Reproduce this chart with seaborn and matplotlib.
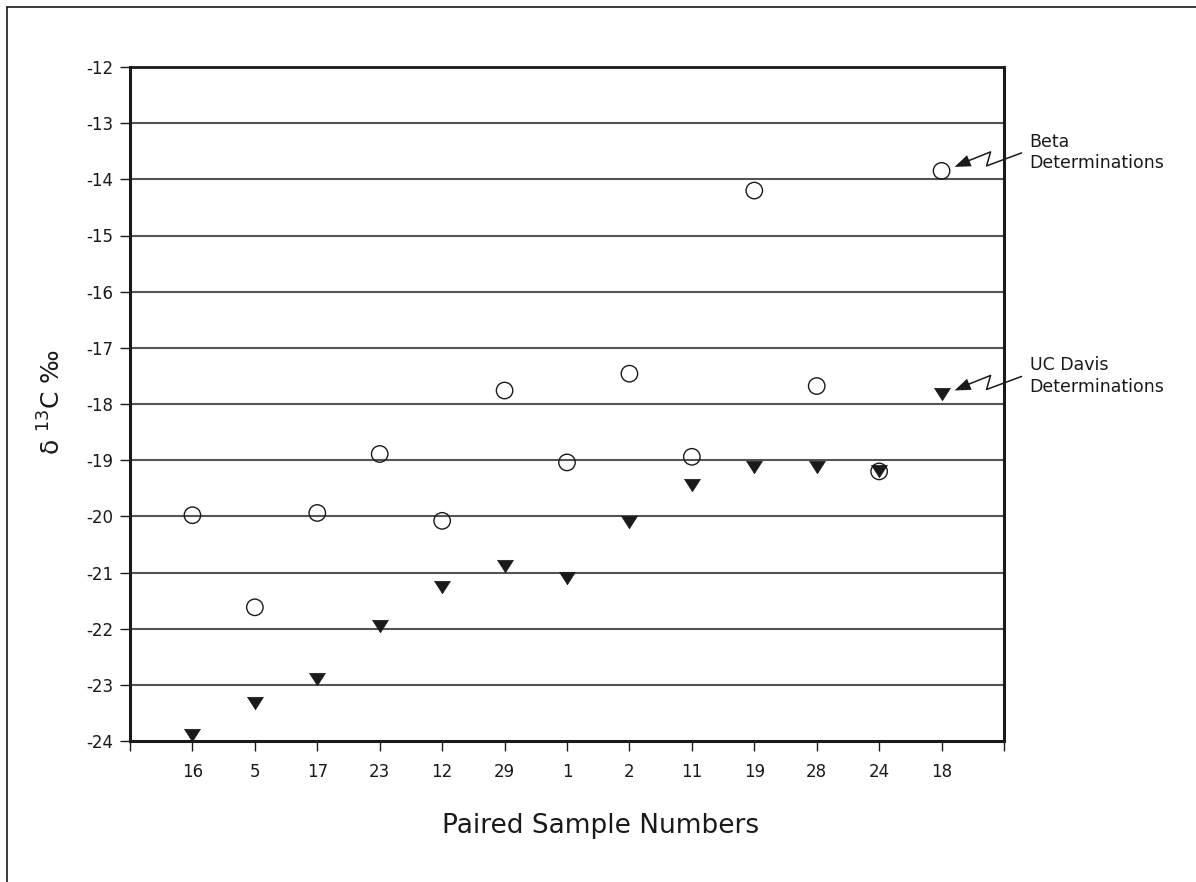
import numpy as np
import pandas as pd
import matplotlib
matplotlib.use("Agg")
import matplotlib.pyplot as plt
from matplotlib.lines import Line2D
from matplotlib.patches import Polygon
import seaborn as sns

# Paired samples, in plotting order
samples = ["16", "5", "17", "23", "12", "29", "1", "2", "11", "19", "28", "24", "18"]
beta = [-19.98, -21.62, -19.94, -18.89, -20.08, -17.76, -19.04, -17.46, -18.94, -14.20, -17.68, -19.20, -13.85]
ucdavis = [-23.90, -23.33, -22.89, -21.95, -21.26, -20.88, -21.10, -20.10, -19.44, -19.12, -19.12, -19.20, -17.83]
yticks = list(range(-24, -11))

df = pd.DataFrame({"sample": samples, "beta": beta, "ucdavis": ucdavis})

sns.set_theme(style="white")
plt.rcParams["font.family"] = ["DejaVu Sans"]

fig = plt.figure(figsize=(11.96, 8.82), dpi=100)
ax = fig.add_axes([130 / 1196, 1 - 741 / 882, 874 / 1196, 674 / 882])

# flattened downward triangle
tri = [(-1.0, 0.78), (1.0, 0.78), (0.0, -0.78), (-1.0, 0.78)]

sns.scatterplot(data=df, x="sample", y="ucdavis", ax=ax, marker=tri, s=130,
                color="#1a1a1a", edgecolor="#1a1a1a", linewidth=0.5, zorder=3,
                clip_on=False, legend=False)
sns.scatterplot(data=df, x="sample", y="beta", ax=ax, marker="o", s=140,
                facecolor="none", edgecolor="#1a1a1a", linewidth=1.0, zorder=4,
                clip_on=False, legend=False)

ax.set_xlim(-1, len(samples))
ax.set_ylim(-24, -12)
ax.set_xticks(range(-1, len(samples) + 1))
ax.set_xticklabels([""] + samples + [""])
ax.set_yticks(yticks)
ax.set_yticklabels([str(v) for v in yticks])
ax.tick_params(axis="both", which="both", direction="out", length=7, width=1.0,
               color="#1a1a1a", labelsize=12, labelcolor="#1a1a1a", pad=5,
               left=True, bottom=True)
ax.tick_params(axis="x", pad=9)
for v in yticks[1:-1]:
    ax.axhline(v, color="#555555", lw=1.5, zorder=1)

for side in ["left", "bottom", "right"]:
    ax.spines[side].set_visible(True)
    ax.spines[side].set_color("#1a1a1a")
    ax.spines[side].set_linewidth(2.2)
ax.spines["top"].set_visible(True)
ax.spines["top"].set_color("#1a1a1a")
ax.spines["top"].set_linewidth(2.0)

ax.set_xlabel("")
ax.set_ylabel("")
fig.text(601 / 1196, 1 - 826 / 882, "Paired Sample Numbers", ha="center", va="center",
         fontsize=19, color="#1a1a1a")
fig.text(52 / 1196, 1 - 402 / 882, r"δ $^{13}$C ‰", rotation=90, ha="center", va="center",
         fontsize=18, color="#1a1a1a")

# outer frame edges
fig.add_artist(Line2D([7 / 1196, 7 / 1196], [0, 1 - 7 / 882], transform=fig.transFigure,
                      color="#1a1a1a", lw=1.2))
fig.add_artist(Line2D([7 / 1196, 1], [1 - 7 / 882, 1 - 7 / 882], transform=fig.transFigure,
                      color="#1a1a1a", lw=1.2))

# zigzag callouts pointing at the last sample of each series
fig.canvas.draw()
to_fig = fig.transFigure.inverted()


def callout(xpos, yval, label):
    px, py = ax.transData.transform((xpos, yval))
    pts = [(80, 18), (45, 5), (49, 19)]
    shaft = [to_fig.transform((px + dx, py + dy)) for dx, dy in pts]
    shaft.append(to_fig.transform((px + 24, py + 9)))
    fig.add_artist(Line2D([p[0] for p in shaft], [p[1] for p in shaft],
                          transform=fig.transFigure, color="#1a1a1a", lw=1.1))
    # arrow head
    tip = np.array((px + 13, py + 4))
    direc = np.array((36, 15.0))
    direc /= np.linalg.norm(direc)
    perp = np.array((-direc[1], direc[0]))
    base = tip + direc * 16
    head = [tip, base + perp * 6, base - perp * 6]
    fig.add_artist(Polygon([to_fig.transform(p) for p in head], closed=True,
                           transform=fig.transFigure, color="#1a1a1a", lw=0))
    tx, ty = to_fig.transform((px + 88, py + 38))
    fig.text(tx, ty, label, ha="left", va="top", fontsize=12.5, color="#1a1a1a",
             linespacing=1.25)


last = len(samples) - 1
callout(last, beta[-1], "Beta\nDeterminations")
callout(last, ucdavis[-1], "UC Davis\nDeterminations")

fig.savefig("out.png", dpi=100, facecolor="white")
